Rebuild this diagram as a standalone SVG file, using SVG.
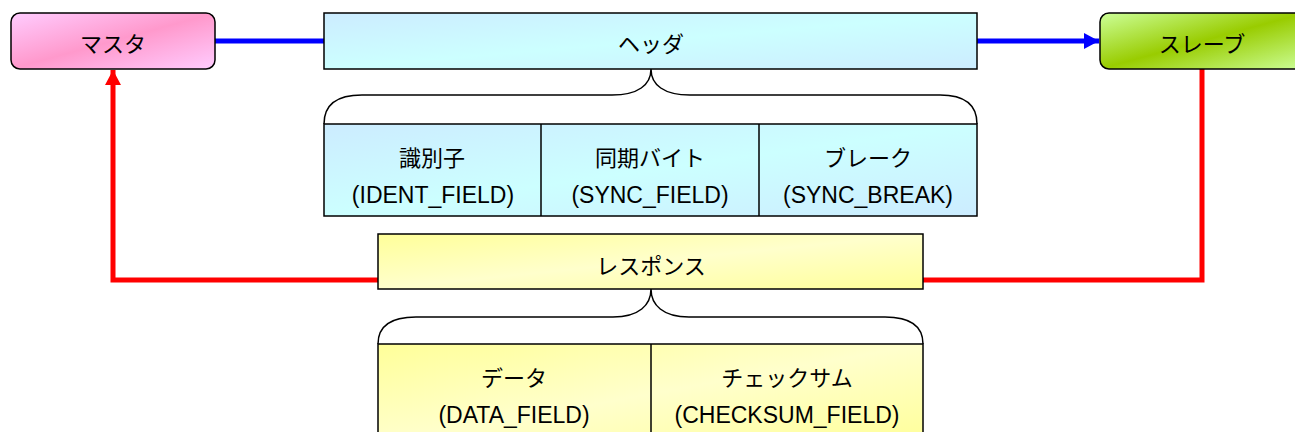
<svg xmlns="http://www.w3.org/2000/svg" width="1295" height="432" viewBox="0 0 1295 432">
<defs>
<linearGradient id="gPink" x1="0" y1="0" x2="1" y2="1">
<stop offset="0" stop-color="#FFCCFF"/><stop offset="0.5" stop-color="#FF99CC"/><stop offset="1" stop-color="#FFCCFF"/>
</linearGradient>
<linearGradient id="gGreen" x1="0" y1="0" x2="1" y2="1">
<stop offset="0" stop-color="#CCFF99"/><stop offset="0.5" stop-color="#99CC00"/><stop offset="1" stop-color="#CCFF99"/>
</linearGradient>
<linearGradient id="gCyan" x1="0" y1="0" x2="1" y2="1">
<stop offset="0" stop-color="#CCECFF"/><stop offset="0.5" stop-color="#CCFFFF"/><stop offset="1" stop-color="#CCECFF"/>
</linearGradient>
<linearGradient id="gYellow" x1="0" y1="0" x2="1" y2="1">
<stop offset="0" stop-color="#FFFF99"/><stop offset="0.5" stop-color="#FFFFCC"/><stop offset="1" stop-color="#FFFF99"/>
</linearGradient>
<marker id="aBlue" markerUnits="userSpaceOnUse" markerWidth="16" markerHeight="16" refX="15" refY="8" orient="auto">
<path d="M0,0 L15,8 L0,16 Z" fill="#0000FF"/>
</marker>
<marker id="aRed" markerUnits="userSpaceOnUse" markerWidth="16" markerHeight="16" refX="15" refY="8" orient="auto">
<path d="M0,0 L15,8 L0,16 Z" fill="#FF0000"/>
</marker>
</defs>
<style>
.box{stroke:#000;stroke-width:1.5}
.t{font-family:"Liberation Sans","Noto Sans CJK JP",sans-serif;font-size:22px;text-anchor:middle;fill:#000}
.l{font-size:23px}
.brace{fill:none;stroke:#000;stroke-width:1.5}
.div{stroke:#000;stroke-width:1.5}
</style>
<g id="connectors">
<path d="M215,41 L1099,41" fill="none" stroke="#0000FF" stroke-width="5" marker-end="url(#aBlue)"/>
<path d="M1202,69 L1202,280 L113,280 L113,70" fill="none" stroke="#FF0000" stroke-width="5" marker-end="url(#aRed)"/>
</g>
<g id="master">
<rect class="box" x="11" y="13" width="204" height="56" rx="9" fill="url(#gPink)"/>
<text class="t" x="113" y="52">マスタ</text>
</g>
<g id="header">
<rect class="box" x="324" y="13" width="653" height="56" fill="url(#gCyan)"/>
<text class="t" x="651" y="52">ヘッダ</text>
</g>
<g id="slave">
<rect class="box" x="1100" y="13" width="205" height="56" rx="9" fill="url(#gGreen)"/>
<text class="t" x="1202" y="52">スレーブ</text>
</g>
<g id="header-brace">
<path class="brace" d="M324,124 C324,106 335,95 362,95 L612,95 C638,95 651,85 651,69 C651,85 664,95 690,95 L940,95 C967,95 977,106 977,124"/>
</g>
<g id="header-fields">
<rect class="box" x="324" y="124" width="653" height="92" fill="url(#gCyan)"/>
<line class="div" x1="541" y1="124" x2="541" y2="216"/>
<line class="div" x1="759" y1="124" x2="759" y2="216"/>
</g>
<g id="ident-field">
<text class="t" x="432" y="166">識別子</text>
<text class="t l" x="433" y="203">(IDENT_FIELD)</text>
</g>
<g id="sync-field">
<text class="t" x="650" y="166">同期バイト</text>
<text class="t l" x="650" y="203">(SYNC_FIELD)</text>
</g>
<g id="sync-break">
<text class="t" x="868" y="166">ブレーク</text>
<text class="t l" x="868" y="203">(SYNC_BREAK)</text>
</g>
<g id="response">
<rect class="box" x="378" y="234" width="545" height="55" fill="url(#gYellow)"/>
<text class="t" x="651" y="274">レスポンス</text>
</g>
<g id="response-brace">
<path class="brace" d="M378,344 C378,327 389,317 416,317 L613,317 C639,317 651,305 651,289 C651,305 663,317 689,317 L885,317 C912,317 923,327 923,344"/>
</g>
<g id="response-fields">
<rect class="box" x="378" y="344" width="545" height="100" fill="url(#gYellow)"/>
<line class="div" x1="651" y1="344" x2="651" y2="444"/>
</g>
<g id="data-field">
<text class="t" x="514" y="386">データ</text>
<text class="t l" x="514" y="423">(DATA_FIELD)</text>
</g>
<g id="checksum-field">
<text class="t" x="787" y="386">チェックサム</text>
<text class="t l" x="787" y="423">(CHECKSUM_FIELD)</text>
</g>
</svg>
